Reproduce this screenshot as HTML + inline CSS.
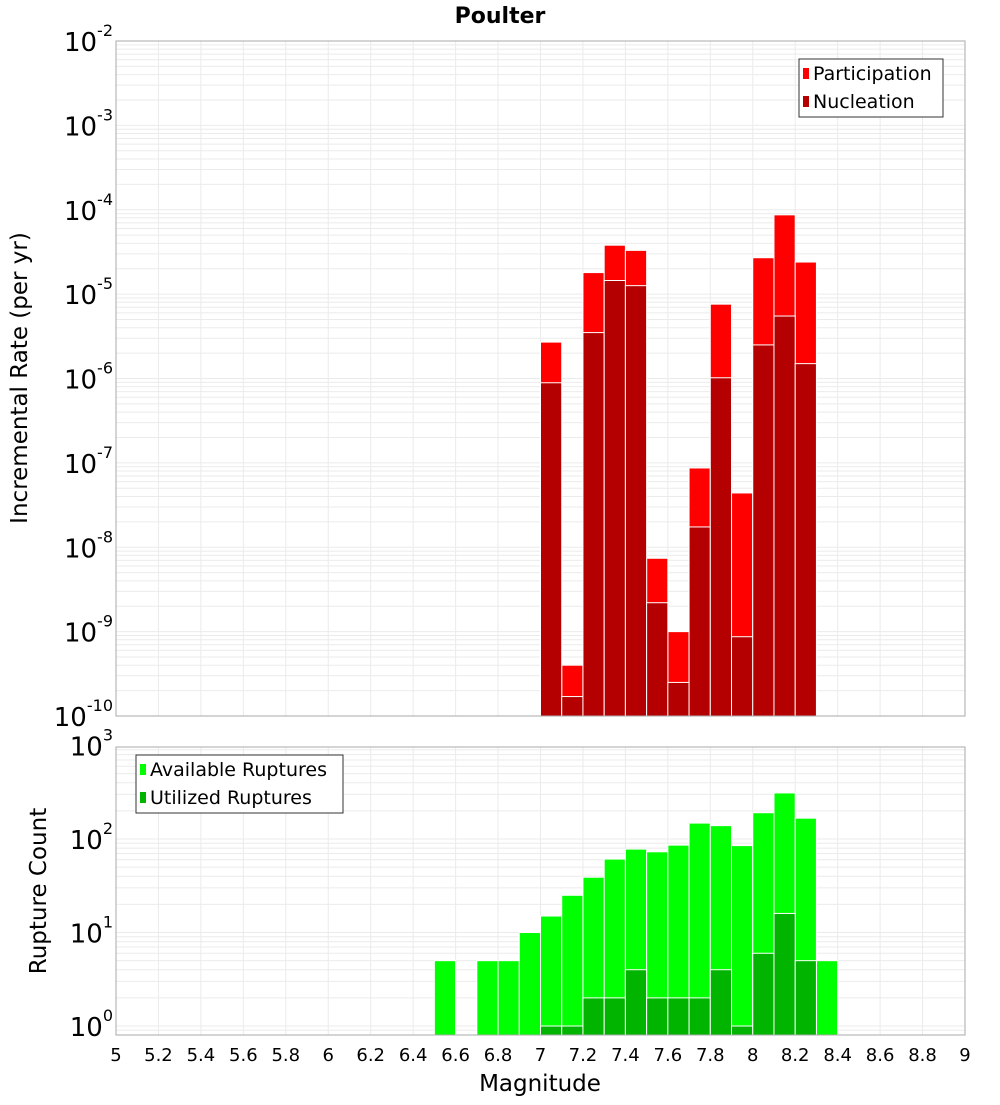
<!DOCTYPE html>
<html><head><meta charset="utf-8"><style>
body{margin:0;background:#fff;}
svg text{font-family:"DejaVu Sans","Liberation Sans",sans-serif;}
</style></head><body>
<svg id="chart" width="1000" height="1100" xmlns="http://www.w3.org/2000/svg"></svg>
<script>
const mags=[7.05,7.15,7.25,7.35,7.45,7.55,7.65,7.75,7.85,7.95,8.05,8.15,8.25];
const participation=[2.7e-6,4.0e-10,1.8e-5,3.8e-5,3.3e-5,7.4e-9,1.0e-9,8.7e-8,7.6e-6,4.4e-8,2.7e-5,8.7e-5,2.4e-5];
const nucleation=[8.9e-7,1.7e-10,3.5e-6,1.45e-5,1.26e-5,2.2e-9,2.5e-10,1.74e-8,1.02e-6,8.7e-10,2.5e-6,5.5e-6,1.5e-6];
const countMags=[6.55,6.75,6.85,6.95,7.05,7.15,7.25,7.35,7.45,7.55,7.65,7.75,7.85,7.95,8.05,8.15,8.25,8.35];
const available=[5,5,5,10,15,25,39,61,78,73,86,148,139,85,191,311,167,5];
const utilMags=[7.05,7.15,7.25,7.35,7.45,7.55,7.65,7.75,7.85,7.95,8.05,8.15,8.25];
const utilized=[1,1,2,2,4,2,2,2,4,1,6,16,5];
const xTicks=[5,5.2,5.4,5.6,5.8,6,6.2,6.4,6.6,6.8,7,7.2,7.4,7.6,7.8,8,8.2,8.4,8.6,8.8,9];
const topDecades=[-2,-3,-4,-5,-6,-7,-8,-9,-10];
const botDecades=[3,2,1,0];

const svg=document.getElementById('chart');
const NS='http://www.w3.org/2000/svg';
function mk(tag,attrs,parent){const e=document.createElementNS(NS,tag);for(const k in attrs)e.setAttribute(k,attrs[k]);(parent||svg).appendChild(e);return e;}
const L=116,R=965;
const xs=m=>L+(m-5)/4*(R-L);
const T1=41,B1=716;
const y1=v=>T1+(-2-Math.log10(v))/8*(B1-T1);
const T2=747,B2=1035,lmin=-0.096,lmax=2.984;
const y2=v=>B2-(Math.log10(v)-lmin)/(lmax-lmin)*(B2-T2);

function panel(T,B,yf,lo,hi,name){
  const g=mk('g',{});
  
  
  for(let d=lo;d<hi;d++){for(let k=1;k<10;k++){const v=k*Math.pow(10,d);const y=yf(v);if(y<T||y>B)continue;mk('line',{x1:L,x2:R,y1:y,y2:y,stroke:'#ebebeb','stroke-width':1},g);}}
  xTicks.forEach(t=>{const x=xs(t);mk('line',{x1:x,x2:x,y1:T,y2:B,stroke:'#ebebeb','stroke-width':1},g);});
}
panel(T1,B1,y1,-10,-1,'top');
panel(T2,B2,y2,-1,3,'bottom');

function bars(ms,vals,yf,B,color,name){
  ms.forEach((m,i)=>{const x0=xs(m-0.05),x1=xs(m+0.05);const y=yf(vals[i]);
    const r=mk('rect',{x:x0,y:y,width:x1-x0,height:B-y,fill:color,stroke:'#fff','stroke-width':1});
    
    });
}
bars(mags,participation,y1,B1,'#ff0000','participation');
bars(mags,nucleation,y1,B1,'#b40000','nucleation');
bars(countMags,available,y2,B2,'#00ff00','available');
bars(utilMags,utilized,y2,B2,'#00b400','utilized');

const f1=mk('rect',{x:L,y:T1,width:R-L,height:B1-T1,fill:'none',stroke:'#aaa'});

const f2=mk('rect',{x:L,y:T2,width:R-L,height:B2-T2,fill:'none',stroke:'#aaa'});


function ylab(d,y){const t=mk('text',{x:113,y:y+10,'text-anchor':'end','font-size':26,fill:'#000'});
  
  const a=mk('tspan',{},t);a.textContent='10';const b=mk('tspan',{'font-size':16,dy:-15},t);b.textContent=String(d);}
topDecades.forEach(d=>ylab(d,y1(Math.pow(10,d))));
botDecades.forEach(d=>ylab(d,y2(Math.pow(10,d))));

xTicks.forEach(t=>{const e=mk('text',{x:xs(t),y:1061,'text-anchor':'middle','font-size':18,fill:'#000'});
  
  e.textContent=String(t);});

function txt(s,a,name){const e=mk('text',a);e.textContent=s;return e;}
txt('Poulter',{x:500,y:23,'text-anchor':'middle','font-size':22,'font-weight':'bold'},'chart-title');
txt('Magnitude',{x:540,y:1091,'text-anchor':'middle','font-size':23},'x-axis-title');
txt('Incremental Rate (per yr)',{x:0,y:0,transform:'translate(27,378) rotate(-90)','text-anchor':'middle','font-size':23},'top-y-axis-title');
txt('Rupture Count',{x:0,y:0,transform:'translate(46,891) rotate(-90)','text-anchor':'middle','font-size':23},'bottom-y-axis-title');

function legend(x,y,w,items,name){
  const g=mk('g',{});
  mk('rect',{x:x,y:y,width:w,height:58,fill:'#fff',stroke:'#333'},g);
  items.forEach((it,i)=>{const cy=y+14+i*28;
    mk('rect',{x:x+4,y:cy-5,width:6,height:11,fill:it[1]},g);
    const t=mk('text',{x:x+14,y:cy+7,'font-size':19},g);t.textContent=it[0];});
}
legend(799,59,144,[['Participation','#ff0000'],['Nucleation','#b40000']],'top-legend');
legend(136,755,207,[['Available Ruptures','#00ff00'],['Utilized Ruptures','#00b400']],'bottom-legend');
</script>
</body></html>
